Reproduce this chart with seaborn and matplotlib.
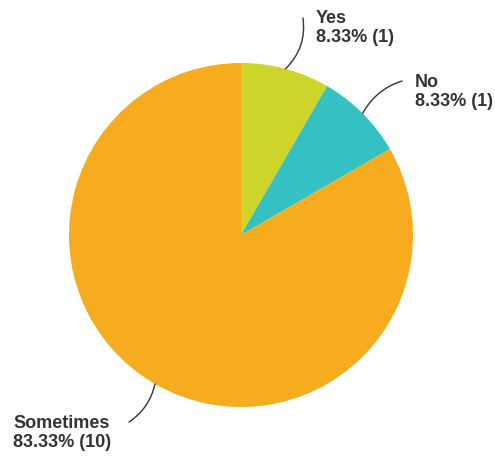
import numpy as np
import seaborn as sns
import matplotlib
matplotlib.use("Agg")
import matplotlib.pyplot as plt

# Survey answers
labels = ["Yes", "No", "Sometimes"]
counts = [1, 1, 10]
colors = ["#cdd52a", "#35c0c1", "#f6ac1e"]

sns.set_style("white")
plt.rcParams['font.family'] = ['Liberation Sans', 'DejaVu Sans']

W, H = 495, 457
fig = plt.figure(figsize=(W / 100, H / 100), dpi=100)
ax = fig.add_axes([0, 0, 1, 1])

cx, cy, r = 241, H - 235, 172
wedges, _ = ax.pie(counts, colors=colors, startangle=90, counterclock=False,
                   center=(cx, cy), radius=r,
                   wedgeprops=dict(linewidth=0))

ax.set_xlim(0, W)
ax.set_ylim(0, H)
ax.set_aspect("equal")
ax.axis("off")

total = sum(counts)
# label block position (left edge, vertical centre) and where the leader ends
text_pos = [(316, 28), (415, 92), (13, 433)]
line_end = [(303, 18), (402, 81), (129, 422)]
rads = [-0.25, 0.2, 0.2]

for w, lab, n, (tx, ty), (ex, ey), rad in zip(wedges, labels, counts, text_pos, line_end, rads):
    mid = np.deg2rad((w.theta1 + w.theta2) / 2)
    sx, sy = cx + r * np.cos(mid), cy + r * np.sin(mid)
    ax.annotate("", xy=(sx, sy), xytext=(ex, H - ey),
                arrowprops=dict(arrowstyle="-", color="#333333", lw=1,
                                connectionstyle=f"arc3,rad={rad}",
                                shrinkA=0, shrinkB=0))
    pct = 100 * n / total
    ax.text(tx, H - ty, f"{lab}\n{pct:.2f}% ({n})", ha="left", va="center",
            fontsize=13, fontweight="bold", color="#333333",
            linespacing=1.2)

fig.savefig("out.png", dpi=100)
